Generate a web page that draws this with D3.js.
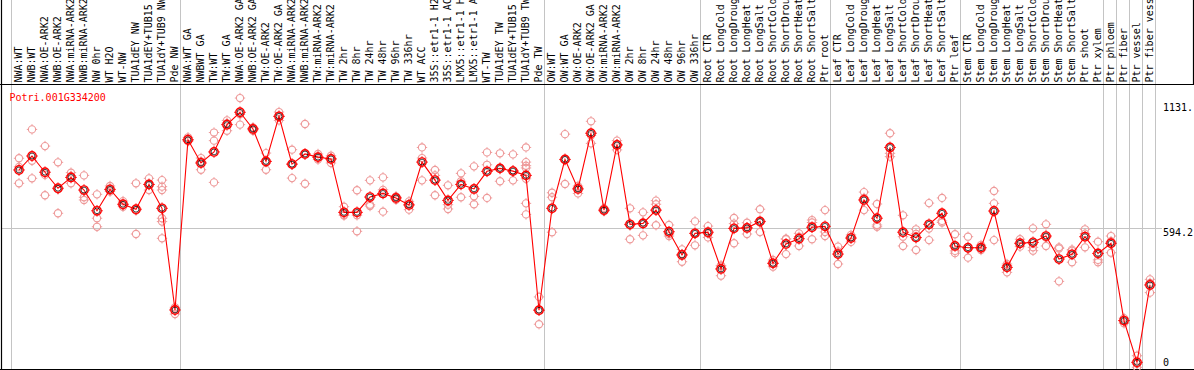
<!DOCTYPE html>
<html>
<head>
<meta charset="utf-8">
<script src="https://cdn.jsdelivr.net/npm/d3@7/dist/d3.min.js"></script>
<style>
  html, body { margin: 0; padding: 0; background: #fff; }
  svg { display: block; }
  text { font-family: "DejaVu Sans Mono", "Liberation Mono", monospace; }
</style>
</head>
<body>
<svg id="chart" width="1194" height="370"></svg>
<script>
const geneName = "Potri.001G334200";

const categories = [
  "NWA:WT", "NWB:WT", "NWA:OE-ARK2", "NWB:OE-ARK2", "NWA:miRNA-ARK2", "NWB:miRNA-ARK2",
  "NW 0hr", "WT H2O", "WT-NW", "TUA1dEY NW", "TUA1dEY+TUB15", "TUA1dY+TUB9 NW", "Pde NW",
  "NWA:WT GA", "NWBWT GA", "TW:WT", "TW:WT GA", "NWA:OE-ARK2 GA", "NWB:OE-ARK2 GA",
  "TW:OE-ARK2", "TW:OE-ARK2 GA", "NWA:miRNA-ARK2", "NWB:miRNA-ARK2", "TW:miRNA-ARK2",
  "TW:miRNA-ARK2", "TW 2hr", "TW 8hr", "TW 24hr", "TW 48hr", "TW 96hr", "TW 336hr",
  "WT ACC", "35S::etr1-1 H2O", "35S::etr1-1 ACC", "LMX5::etr1-1 H2O", "LMX5::etr1-1 ACC",
  "WT-TW", "TUA1dEY TW", "TUA1dEY+TUB15", "TUA1dY+TUB9 TW", "Pde TW",
  "OW:WT", "OW:WT GA", "OW:OE-ARK2", "OW:OE-ARK2 GA", "OW:miRNA-ARK2", "OW:miRNA-ARK2",
  "OW 2hr", "OW 8hr", "OW 24hr", "OW 48hr", "OW 96hr", "OW 336hr",
  "Root CTR", "Root LongCold", "Root LongDrought", "Root LongHeat", "Root LongSalt",
  "Root ShortCold", "Root ShortDrought", "Root ShortHeat", "Root ShortSalt", "Ptr root",
  "Leaf CTR", "Leaf LongCold", "Leaf LongDrought", "Leaf LongHeat", "Leaf LongSalt",
  "Leaf ShortCold", "Leaf ShortDrought", "Leaf ShortHeat", "Leaf ShortSalt", "Ptr leaf",
  "Stem CTR", "Stem LongCold", "Stem LongDrought", "Stem LongHeat", "Stem LongSalt",
  "Stem ShortCold", "Stem ShortDrought", "Stem ShortHeat", "Stem ShortSalt", "Ptr shoot",
  "Ptr xylem", "Ptr phloem", "Ptr fiber", "Ptr vessel", "Ptr fiber vessel"
];

// column indices where a new sample group begins (vertical separators)
const groupBreaks = [0, 13, 41, 53, 63, 73, 84, 85, 86, 87, 88];

const means = [
  853, 915, 843, 772, 820, 764, 672, 767, 701, 679, 789, 683, 232,
  987, 884, 933, 1054, 1109, 1035, 891, 1091, 879, 924, 910, 902, 665, 665, 733, 749, 729,
  698, 888, 808, 718, 789, 769, 847, 860, 848, 829, 231,
  683, 900, 769, 1016, 675, 964, 612, 616, 675, 579, 476, 572,
  577, 414, 594, 596, 625, 439, 525, 548, 599, 603,
  480, 551, 720, 639, 953, 577, 553, 612, 661, 516,
  508, 508, 671, 421, 528, 532, 560, 458, 479, 557, 483,
  528, 185, 0, 343
];

const replicates = [
  [905, 867, 794], [1033, 894, 816], [959, 831, 741], [887, 767, 661], [841, 827, 794],
  [829, 732, 720], [745, 639, 601], [782, 763, 757], [715, 697, 690], [794, 673, 569],
  [816, 788, 764], [808, 779, 764, 639, 624, 550], [244, 237, 214],
  [998, 983, 980], [906, 891, 854], [1019, 983, 798], [1073, 1061, 1027], [1172, 1100, 1054],
  [1042, 1035, 1027], [928, 892, 854], [1110, 1090, 1073], [943, 878, 817], [1057, 923, 792],
  [924, 909, 899], [916, 905, 884], [690, 654, 651], [763, 652, 581], [807, 699, 693],
  [820, 765, 668], [736, 729, 721], [714, 702, 677], [953, 906, 807], [853, 829, 741],
  [785, 699, 680], [838, 803, 732], [869, 736, 701], [931, 876, 729], [927, 862, 803],
  [922, 851, 807], [953, 888, 872, 862, 814, 705, 656], [290, 234, 169],
  [752, 732, 577], [1012, 897, 791], [782, 774, 749], [1069, 1006, 971], [684, 672, 670],
  [983, 967, 942], [683, 607, 546], [665, 621, 563], [717, 701, 608], [609, 569, 560],
  [501, 480, 446], [625, 572, 519],
  [604, 571, 554], [430, 427, 384], [640, 615, 528], [619, 599, 569], [679, 620, 578],
  [454, 440, 424], [548, 546, 480], [572, 557, 516], [631, 620, 546], [675, 578, 560],
  [513, 492, 436], [565, 556, 534], [755, 729, 675], [702, 609, 601], [1016, 927, 912],
  [652, 557, 516], [590, 570, 498], [706, 593, 542], [729, 627, 620], [568, 494, 484],
  [557, 504, 464], [520, 507, 498], [760, 705, 542], [436, 429, 399], [546, 525, 513],
  [594, 510, 495], [612, 553, 516], [510, 505, 359], [500, 494, 444], [590, 571, 510],
  [535, 454, 444],
  [560, 537, 486], [196, 184, 173], [29, -7, -22], [368, 352, 309]
];

const yTickValues = [0, 594.2, 1131];
const yTickLabels = ["0", "594.2", "1131."];

// ---------------------------------------------------------------
const W = 1194, H = 370;
const svg = d3.select("#chart");

const x = d3.scaleLinear().domain([0, categories.length]).range([11, 1155]);
const cx = i => x(i) + 8;
const y = d3.scaleLinear().domain([0, 1131]).range([362.3, 107.3]);

const crisp = v => Math.round(v) + 0.5;

// vertical group separators
svg.append("g").selectAll("line").data(groupBreaks).join("line")
  .attr("x1", d => crisp(x(d))).attr("x2", d => crisp(x(d)))
  .attr("y1", 0).attr("y2", 369)
  .attr("stroke", "#c4c4c4").attr("stroke-width", 1);

// horizontal reference line at middle tick
svg.append("line")
  .attr("x1", 2).attr("x2", 1162)
  .attr("y1", Math.floor(y(594.2)) + 0.5).attr("y2", Math.floor(y(594.2)) + 0.5)
  .attr("stroke", "#c4c4c4").attr("stroke-width", 1);

// frame lines
svg.append("line").attr("x1", 1.5).attr("x2", 1.5).attr("y1", 0).attr("y2", H)
  .attr("stroke", "#000").attr("stroke-width", 1.2);
svg.append("line").attr("x1", 0).attr("x2", W).attr("y1", 84.5).attr("y2", 84.5)
  .attr("stroke", "#000").attr("stroke-width", 1.2);
svg.append("line").attr("x1", 0).attr("x2", W).attr("y1", 369.5).attr("y2", 369.5)
  .attr("stroke", "#000").attr("stroke-width", 1.2);
svg.append("line").attr("x1", 1193.5).attr("x2", 1193.5).attr("y1", 0).attr("y2", 85)
  .attr("stroke", "#000").attr("stroke-width", 1.2);

// rotated column labels
svg.append("g").selectAll("text").data(categories).join("text")
  .attr("transform", (d, i) => `translate(${cx(i) + 3.2},82.5) rotate(-90)`)
  .attr("text-anchor", "start")
  .attr("font-size", "10px")
  .attr("fill", "#000")
  .text(d => d);

// right-side value labels
svg.append("g").selectAll("text").data(yTickValues).join("text")
  .attr("x", 1163)
  .attr("y", (d, i) => y(d) + (i === 1 ? 7.8 : 3.5))
  .attr("font-size", "10px")
  .attr("fill", "#000")
  .text((d, i) => yTickLabels[i]);

// gene name
svg.append("text")
  .attr("x", 9.5).attr("y", 101)
  .attr("font-size", "10px")
  .attr("fill", "#ff0000")
  .text(geneName);

// marker helper (ring with small ticks at the four compass points)
function marker(g, r, color, sw) {
  g.append("circle").attr("r", r).attr("fill", "none")
    .attr("stroke", color).attr("stroke-width", sw);
  const t = [[0, -1], [0, 1], [-1, 0], [1, 0]];
  t.forEach(([dx, dy]) => {
    g.append("line")
      .attr("x1", dx * (r)).attr("y1", dy * (r))
      .attr("x2", dx * (r + 1.6)).attr("y2", dy * (r + 1.6))
      .attr("stroke", color).attr("stroke-width", 1);
  });
}

// replicate points
const repPts = [];
replicates.forEach((arr, i) => arr.forEach(v => repPts.push({ i, v })));
svg.append("g").selectAll("g").data(repPts).join("g")
  .attr("transform", d => `translate(${cx(d.i)},${y(d.v)})`)
  .each(function () { marker(d3.select(this), 3.6, "#ee9a9a", 1.1); });

// mean line
svg.append("path")
  .datum(means)
  .attr("fill", "none")
  .attr("stroke", "#ff0000")
  .attr("stroke-width", 1.1)
  .attr("d", d3.line().x((d, i) => cx(i)).y(d => y(d)));

// mean markers
svg.append("g").selectAll("g").data(means).join("g")
  .attr("transform", (d, i) => `translate(${cx(i)},${y(d)})`)
  .each(function () {
    const g = d3.select(this);
    marker(g, 4.2, "#ff0000", 1.4);
    g.append("circle").attr("r", 2.9).attr("fill", "none")
      .attr("stroke", "#000").attr("stroke-width", 0.7);
  });
</script>
</body>
</html>
